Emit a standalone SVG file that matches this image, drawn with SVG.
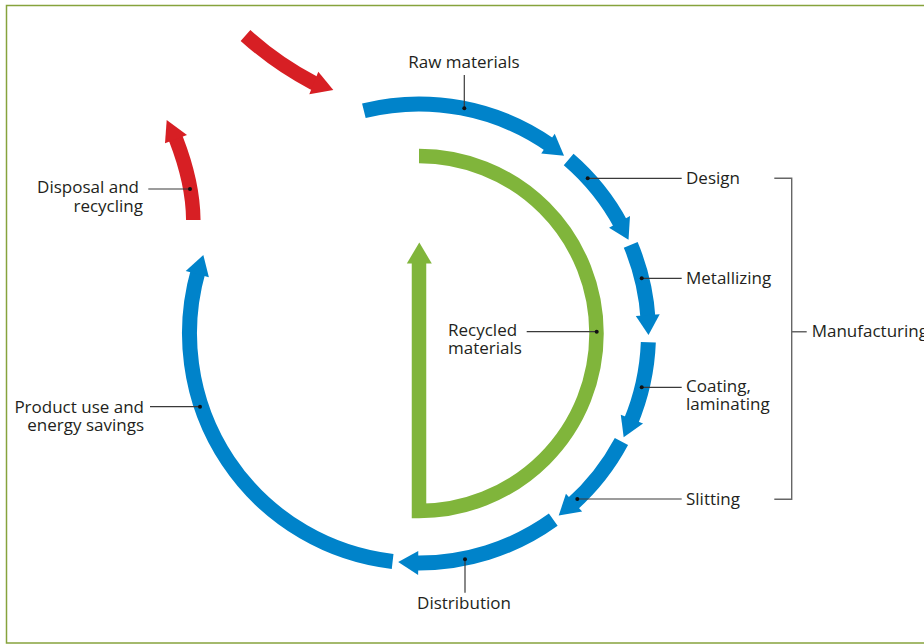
<svg xmlns="http://www.w3.org/2000/svg" width="924" height="644" viewBox="0 0 924 644">
<style>
.t{font-family:"Open Sans","Liberation Sans",sans-serif;font-size:17px;fill:#231f20}
.e{text-anchor:end}
.m{text-anchor:middle}
.b{fill:none;stroke:#0083ca;stroke-width:15}
.bh{fill:#0083ca}
.r{fill:none;stroke:#d71f24;stroke-width:14.5}
.rh{fill:#d71f24}
.g{fill:none;stroke:#80b53b;stroke-width:14.5;stroke-linejoin:miter}
.gh{fill:#80b53b}
.ld{fill:none;stroke:#3a3a3a;stroke-width:1.2}
.br{fill:none;stroke:#666;stroke-width:1.4}
.dot{fill:#111}
</style>
<rect x="0" y="0" width="924" height="644" fill="#fff"/>
<rect x="6.5" y="5.5" width="1000" height="637.5" fill="none" stroke="#86a33c" stroke-width="1.5"/>

<g id="connectors">
  <g id="cycle">
    <path class="b" d="M363.87,110.72 A229.5,229.5 0 0 1 551.28,145.98"/>
    <polygon class="bh" points="554.75,133.76 564.04,155.66 541.26,153.61"/>
    <path class="b" d="M568.66,159.52 A229.5,229.5 0 0 1 621.44,225.41"/>
    <polygon class="bh" points="630.02,216.06 628.49,239.80 609.05,227.73"/>
    <path class="b" d="M630.71,244.94 A229.5,229.5 0 0 1 648.05,319.09"/>
    <polygon class="bh" points="659.72,314.13 648.5,335.1 635.80,316.06"/>
    <path class="b" d="M648.33,342.31 A229.5,229.5 0 0 1 630.42,422.80"/>
    <polygon class="bh" points="643.06,423.58 623.67,437.33 620.80,414.63"/>
    <path class="b" d="M621.44,441.59 A229.5,229.5 0 0 1 571.07,505.40"/>
    <polygon class="bh" points="582.16,511.56 558.72,515.59 565.94,493.86"/>
    <path class="b" d="M553.26,519.65 A229.5,229.5 0 0 1 414.19,562.95"/>
    <polygon class="bh" points="418.16,575.0 398.21,562.05 418.24,551.0"/>
    <path class="b" d="M392.63,561.48 A229.5,229.5 0 0 1 198.38,270.25"/>
    <polygon class="bh" points="185.73,271.0 203.34,255.01 208.91,277.21"/>
  </g>
  <g id="red-arrows">
    <path class="r" d="M245.5,35.5 Q277,64 313.7,83 L316.5,84.1"/>
    <polygon class="rh" points="318.3,71.7 333.3,90 309.3,94.3"/>
    <path class="r" d="M193.3,220 Q193,183 176,139.2 L174.9,136.4"/>
    <polygon class="rh" points="166.7,120 187,135 165,143.3"/>
  </g>
  <g id="recycled-loop">
    <path class="g" d="M419,156 A177.5,177.5 0 0 1 596.5,333.5 A177.5,177.5 0 0 1 419,511 L419,261"/>
    <polygon class="gh" points="419.3,242.5 431.8,263.5 406.8,263.5"/>
  </g>
</g>

<g id="raw-materials">
  <line class="ld" x1="464.3" y1="75" x2="464.3" y2="108.3"/>
  <circle class="dot" cx="464.3" cy="108.3" r="2"/>
  <text class="t m" x="464" y="68">Raw materials</text>
</g>
<g id="design">
  <line class="ld" x1="587.7" y1="178.3" x2="681.7" y2="178.3"/>
  <circle class="dot" cx="587.7" cy="178.3" r="2"/>
  <text class="t" x="686" y="184.3">Design</text>
</g>
<g id="metallizing">
  <line class="ld" x1="641.7" y1="278.3" x2="681.7" y2="278.3"/>
  <circle class="dot" cx="641.7" cy="278.3" r="2"/>
  <text class="t" x="686" y="284">Metallizing</text>
</g>
<g id="coating">
  <line class="ld" x1="641.7" y1="387.3" x2="681.7" y2="387.3"/>
  <circle class="dot" cx="641.7" cy="387.3" r="2"/>
  <text class="t"><tspan x="686" y="392.3">Coating,</tspan><tspan x="686" y="410">laminating</tspan></text>
</g>
<g id="slitting">
  <line class="ld" x1="577.3" y1="499" x2="681.7" y2="499"/>
  <circle class="dot" cx="577.3" cy="499" r="2"/>
  <text class="t" x="686" y="505">Slitting</text>
</g>
<g id="manufacturing">
  <path class="br" d="M774.3,178.3 H791.7 V499.3 H774.3 M791.7,331.7 H806.7"/>
  <text class="t" x="811.7" y="337">Manufacturing</text>
</g>
<g id="distribution">
  <line class="ld" x1="465" y1="559.3" x2="465" y2="592.7"/>
  <circle class="dot" cx="465" cy="559.3" r="2"/>
  <text class="t m" x="464" y="609">Distribution</text>
</g>
<g id="product-use">
  <line class="ld" x1="150" y1="406.7" x2="200" y2="406.7"/>
  <circle class="dot" cx="200" cy="406.7" r="2"/>
  <text class="t e"><tspan x="144" y="412.7">Product use and</tspan><tspan x="144" y="430.5">energy savings</tspan></text>
</g>
<g id="disposal">
  <line class="ld" x1="148.3" y1="189" x2="190" y2="189"/>
  <circle class="dot" cx="190" cy="189" r="2"/>
  <text class="t e"><tspan x="139" y="193.3">Disposal and</tspan><tspan x="143" y="211.5">recycling</tspan></text>
</g>
<g id="recycled-materials">
  <line class="ld" x1="526.7" y1="331.7" x2="596.7" y2="331.7"/>
  <circle class="dot" cx="596.7" cy="331.7" r="2"/>
  <text class="t"><tspan x="448" y="336">Recycled</tspan><tspan x="448" y="354.3">materials</tspan></text>
</g>
</svg>
